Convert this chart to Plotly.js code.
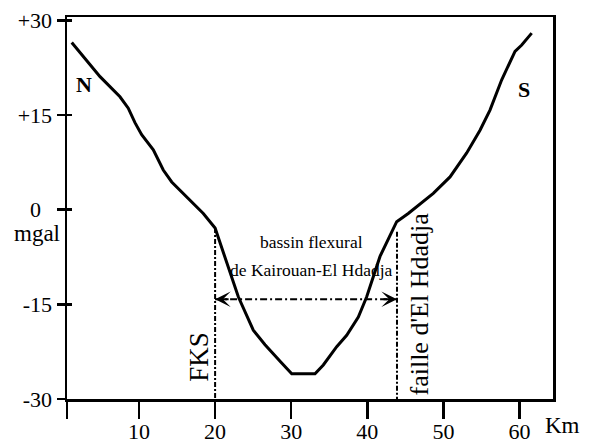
<!DOCTYPE html>
<html>
<head>
<meta charset="utf-8">
<script src="https://cdn.plot.ly/plotly-3.0.1.min.js"></script>
<style>html,body{margin:0;padding:0;background:#fff;}#chart{width:591px;height:445px;}</style>
</head>
<body>
<div id="chart"></div>
<script>
// Gravity profile (Bouguer anomaly, mgal) along distance (km)
const distanceKm = [1.16, 4.88, 7.50, 8.59, 9.47, 10.35, 11.88, 13.19, 14.30, 16.27, 18.45, 20.0,
  21.52, 23.05, 25.02, 26.56, 28.75, 30.07, 33.13, 34.22, 35.98, 37.29, 38.82, 39.92, 41.67,
  43.86, 45.38, 48.67, 50.87, 53.06, 54.81, 56.12, 57.66, 59.41, 60.29, 61.60];
const anomalyMgal = [26.5, 21.1, 17.9, 16.1, 13.8, 11.9, 9.5, 6.3, 4.4, 2.1, -0.6, -2.9,
  -8.5, -13.8, -19.1, -21.4, -24.3, -26.0, -26.0, -24.6, -21.7, -19.9, -17.0, -13.8, -7.4,
  -1.9, -0.6, 2.6, 5.2, 9.0, 12.6, 15.8, 20.6, 25.1, 26.1, 28.0];

// Faults (vertical markers) and basin width arrow
const faultKm = [20, 43.9];
const faultTop = [-2.9, -3.5];
const faultBottom = -30;
const arrowY = -14.2;

// Axis ticks
const xTickVals = [0.54, 10, 20, 30, 40, 50, 60];
const xTickText = ['', '10', '20', '30', '40', '50', '60'];
const yTickVals = [-30, -15, 0, 15, 30];
const yTickText = ['-30', '-15', '0\u00a0\u00a0', '+15', '+30'];

const serif = "'Liberation Serif', 'Times New Roman', Times, serif";

const traces = [
  {x: distanceKm, y: anomalyMgal, mode: 'lines', line: {color: '#000', width: 3}, hoverinfo: 'skip'},
  {x: [faultKm[0], faultKm[0]], y: [faultTop[0], faultBottom], mode: 'lines',
   line: {color: '#000', width: 2, dash: '5px,2px,2px,2px'}},
  {x: [faultKm[1], faultKm[1]], y: [faultTop[1], faultBottom], mode: 'lines',
   line: {color: '#000', width: 2, dash: '5px,2px,2px,2px'}},
  {x: [faultKm[0], faultKm[1]], y: [arrowY, arrowY], mode: 'lines',
   line: {color: '#000', width: 2, dash: '7px,3px,2px,3px'}},
  {x: [], y: [], yaxis: 'y2', mode: 'lines'}
];

const layout = {
  width: 591, height: 445,
  margin: {l: 67, r: 38, t: 17, b: 46, pad: 0},
  paper_bgcolor: '#fff', plot_bgcolor: '#fff',
  showlegend: false,
  font: {family: serif, color: '#000'},
  xaxis: {
    range: [0.54, 64.4], tickmode: 'array', tickvals: xTickVals, ticktext: xTickText,
    ticks: 'outside', ticklen: 17, tickwidth: 2.5, tickcolor: '#000', ticklabelstandoff: -6,
    showline: true, linewidth: 2.5, linecolor: '#000', mirror: true,
    showgrid: false, zeroline: false, tickfont: {family: serif, size: 22, color: '#000'}
  },
  yaxis: {
    range: [-30, 30.55], tickmode: 'array', tickvals: yTickVals, ticktext: yTickText,
    ticks: 'outside', ticklen: 8, tickwidth: 2.5, tickcolor: '#000',
    showline: true, linewidth: 2.5, linecolor: '#000', mirror: true,
    showgrid: false, zeroline: false, tickfont: {family: serif, size: 22, color: '#000'}
  },
  yaxis2: {
    overlaying: 'y', side: 'left', range: [-30, 30.55], tickmode: 'array', tickvals: yTickVals,
    ticks: 'inside', ticklen: 5, tickwidth: 2.5, tickcolor: '#000',
    showticklabels: false, showline: false, showgrid: false, zeroline: false
  },
  annotations: [
    {x: faultKm[0], y: arrowY, ax: 15, ay: 0, axref: 'pixel', ayref: 'pixel', text: '',
     showarrow: true, arrowhead: 3, arrowsize: 1.3, arrowwidth: 2, arrowcolor: '#000', standoff: 0},
    {x: faultKm[1], y: arrowY, ax: -15, ay: 0, axref: 'pixel', ayref: 'pixel', text: '',
     showarrow: true, arrowhead: 3, arrowsize: 1.3, arrowwidth: 2, arrowcolor: '#000', standoff: 0},
    {x: 32.7, y: -5.06, text: 'bassin flexural', showarrow: false, font: {family: serif, size: 17.5}},
    {x: 32.7, y: -9.55, text: 'de Kairouan-El Hdadja', showarrow: false, font: {family: serif, size: 17.5}},
    {x: 17.9, y: -23.3, text: 'FKS', textangle: -90, showarrow: false, font: {family: serif, size: 27}},
    {x: 46.86, y: -14.94, text: "faille d'El Hdadja", textangle: -90, showarrow: false, font: {family: serif, size: 26}},
    {x: 2.8, y: 19.9, text: '<b>N</b>', showarrow: false, font: {family: serif, size: 22}},
    {x: 60.56, y: 19.1, text: '<b>S</b>', showarrow: false, font: {family: serif, size: 22}},
    {xref: 'paper', yref: 'y', x: -0.0618, y: -3.75, xanchor: 'center', yanchor: 'middle',
     text: 'mgal', showarrow: false, font: {family: serif, size: 23}},
    {xref: 'paper', yref: 'paper', x: 1.0196, y: -0.0699, xanchor: 'center', yanchor: 'middle',
     text: 'Km', showarrow: false, font: {family: serif, size: 23}}
  ]
};

Plotly.newPlot('chart', traces, layout, {staticPlot: true, displayModeBar: false});
</script>
</body>
</html>
